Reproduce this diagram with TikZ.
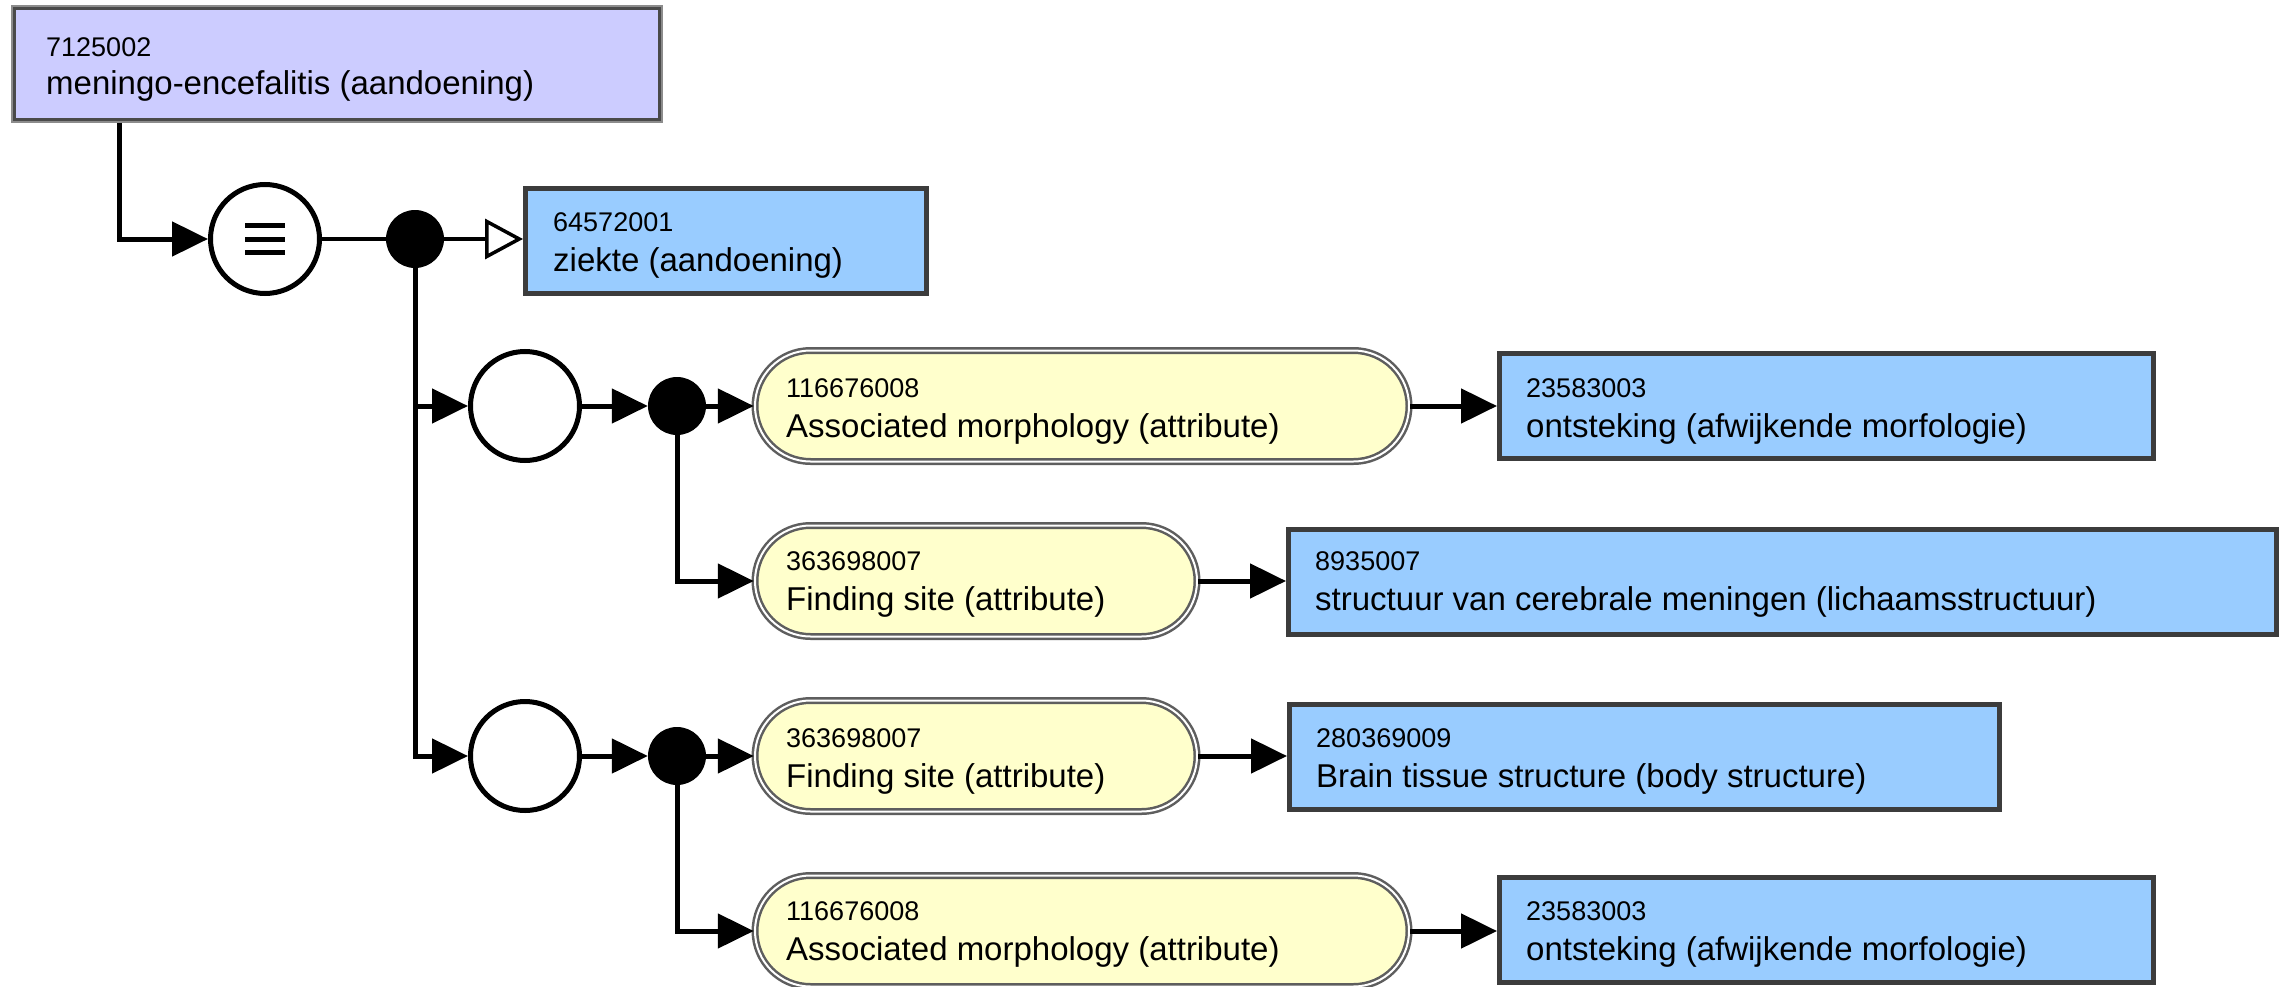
\documentclass[tikz,border=0pt]{standalone}
\usepackage{fontspec}
\setmainfont{Liberation Sans}
\usetikzlibrary{arrows.meta,shapes.misc}
\definecolor{topfill}{HTML}{CCCCFF}
\definecolor{bluefill}{HTML}{99CCFF}
\definecolor{pillfill}{HTML}{FFFFCC}
\definecolor{boxline}{HTML}{3C3C3C}
\definecolor{pillline}{HTML}{5E5E5E}
\definecolor{topouter}{HTML}{8C8C8C}
\definecolor{topinner}{HTML}{4A4A4A}
\newcommand{\idsize}{\fontsize{27}{32}\selectfont}
\newcommand{\namesize}{\fontsize{33}{38}\selectfont}
\begin{document}
\begin{tikzpicture}[x=1pt,y=-1pt,
  bluebox/.style={draw=boxline,line width=5pt,fill=bluefill,inner sep=0pt,minimum height=105pt},
  pill/.style={rounded rectangle,draw=pillline,line width=2.5pt,double=white,double distance=2pt,fill=pillfill,inner sep=0pt,minimum height=111pt},
  ring/.style={circle,draw=black,line width=5pt,fill=white,inner sep=0pt,minimum size=109pt},
  dot/.style={circle,fill=black,inner sep=0pt,minimum size=58pt},
  arr/.style={line width=5pt,-{Triangle[length=36pt,width=34pt]}},
  openarr/.style={line width=3.5pt,-{Triangle[open,length=38pt,width=40pt,fill=white]}},
  idtxt/.style={anchor=base west,inner sep=0pt,font=\idsize},
  nmtxt/.style={anchor=base west,inner sep=0pt,font=\namesize}]
\fill[white] (0,0) rectangle (2290,987);
\useasboundingbox (0,0) rectangle (2290,987);

% top concept
\node[draw=topouter,line width=4pt,fill=topfill,inner sep=0pt,minimum width=648pt,minimum height=114pt] (top) at (337,64) {};
\draw[topinner,line width=3pt] ([shift={(3.5pt,-3.5pt)}]top.north west) rectangle ([shift={(-3.5pt,3.5pt)}]top.south east);
\node[idtxt] (t0a) at (46,57) {7125002};
\node[nmtxt] (t0b) at (46,95) {meningo-encefalitis (aandoening)};

% equivalence ring and first dot
\node[ring] (c0) at (265,239) {};
\draw[line width=5pt] ([shift={(-20pt,13.5pt)}]c0.center) -- ++(40,0);
\draw[line width=5pt] (c0.center) ++(-20,0) -- ++(40,0);
\draw[line width=5pt] ([shift={(-20pt,-13pt)}]c0.center) -- ++(40,0);
\node[dot] (d0) at (415,239) {};

% parent concept
\node[bluebox,minimum width=401pt] (b0) at (726,241) {};
\node[idtxt] (t1a) at (553,231) {64572001};
\node[nmtxt] (t1b) at (553,271) {ziekte (aandoening)};

% group 1
\node[ring] (c1) at (525,406) {};
\node[dot] (d1) at (677,406) {};
\node[pill,minimum width=654pt] (p1) at (1082,406) {};
\node[idtxt] (t2a) at (786,397) {116676008};
\node[nmtxt] (t2b) at (786,437) {Associated morphology (attribute)};
\node[bluebox,minimum width=654pt] (b1) at (1826.5,406) {};
\node[idtxt] (t3a) at (1526,397) {23583003};
\node[nmtxt] (t3b) at (1526,437) {ontsteking (afwijkende morfologie)};

\node[pill,minimum width=442pt] (p2) at (976,581) {};
\node[idtxt] (t4a) at (786,570) {363698007};
\node[nmtxt] (t4b) at (786,610) {Finding site (attribute)};
\node[bluebox,minimum width=988pt] (b2) at (1782.5,582) {};
\node[idtxt] (t5a) at (1315,570) {8935007};
\node[nmtxt] (t5b) at (1315,610) {structuur van cerebrale meningen (lichaamsstructuur)};

% group 2
\node[ring] (c3) at (525,756) {};
\node[dot] (d3) at (677,756) {};
\node[pill,minimum width=442pt] (p3) at (976,756) {};
\node[idtxt] (t6a) at (786,747) {363698007};
\node[nmtxt] (t6b) at (786,787) {Finding site (attribute)};
\node[bluebox,minimum width=710pt] (b3) at (1644.5,757) {};
\node[idtxt] (t7a) at (1316,747) {280369009};
\node[nmtxt] (t7b) at (1316,787) {Brain tissue structure (body structure)};

\node[pill,minimum width=654pt] (p4) at (1082,931) {};
\node[idtxt] (t8a) at (786,920) {116676008};
\node[nmtxt] (t8b) at (786,960) {Associated morphology (attribute)};
\node[bluebox,minimum width=654pt] (b4) at (1826.5,930) {};
\node[idtxt] (t9a) at (1526,920) {23583003};
\node[nmtxt] (t9b) at (1526,960) {ontsteking (afwijkende morfologie)};

% connectors
\draw[arr] ([xshift=108pt]top.south west) |- (c0.west);
\draw[line width=4pt] (c0.east) -- (d0.west);
\draw[openarr] (d0.east) -- (d0.east -| b0.west);
\draw[arr] (d0.south) |- (c1.west);
\draw[arr] (d0.south) |- (c3.west);

\draw[arr] (c1.east) -- (d1.west);
\draw[arr] (d1.east) -- (p1.west);
\draw[arr] (d1.south) |- (p2.west);
\draw[arr] (p1.east) -- (b1.west);
\draw[arr] (p2.east) -- (p2.east -| b2.west);

\draw[arr] (c3.east) -- (d3.west);
\draw[arr] (d3.east) -- (p3.west);
\draw[arr] (d3.south) |- (p4.west);
\draw[arr] (p3.east) -- (p3.east -| b3.west);
\draw[arr] (p4.east) -- (p4.east -| b4.west);
\end{tikzpicture}
\end{document}
